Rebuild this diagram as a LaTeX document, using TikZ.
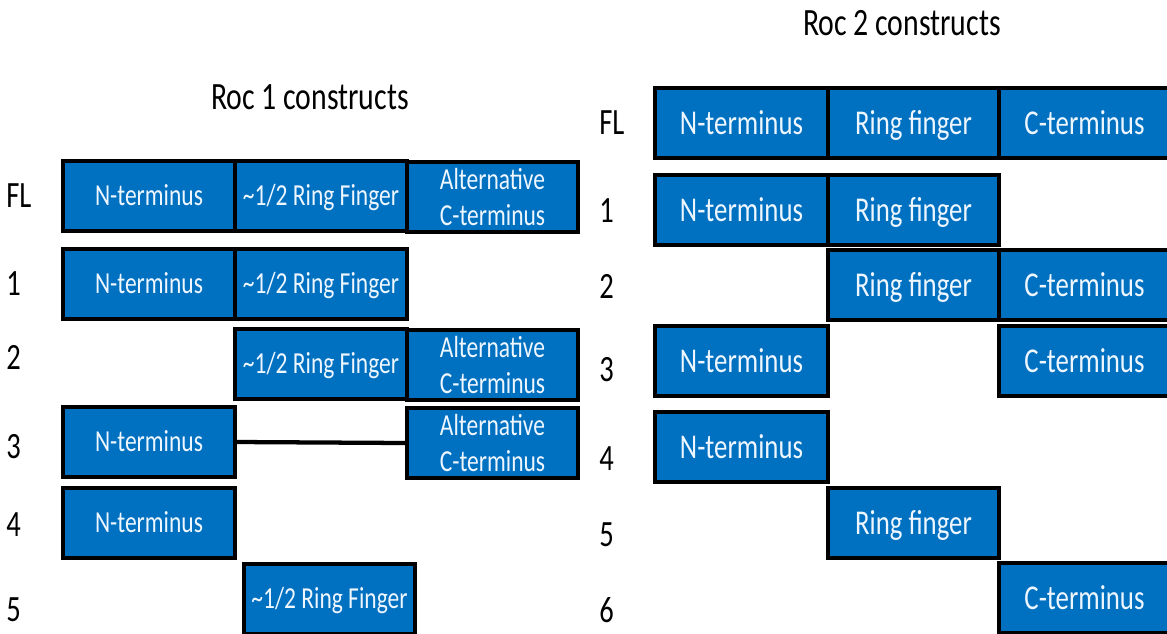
\documentclass[tikz,border=0pt]{standalone}
\usepackage{fontspec}
\newfontfamily\calf[FakeStretch=0.77]{Carlito}
\definecolor{boxblue}{HTML}{0070C0}
\definecolor{boxtext}{HTML}{EEF6FF}
\tikzset{
  box/.style={draw=black, line width=2.3pt, fill=boxblue, text=boxtext, inner sep=0pt},
  bw/.style={minimum width=#1*0.75pt},
  bh/.style={minimum height=#1*0.75pt},
  oneline/.style={text height=#1, text depth=0pt},
  twoline/.style={align=center},
  lbox/.style={box, bh=70, font=\calf\fontsize{22.9}{26.3}\selectfont},
  lone/.style={lbox, oneline=14.6pt},
  rbox/.style={box, bh=70, oneline=16.6pt, font=\calf\fontsize{26.1}{30}\selectfont},
  rowlabel/.style={anchor=west, inner sep=0pt, font=\calf\fontsize{27.8}{30}\selectfont},
  title/.style={inner sep=0pt, font=\calf\fontsize{29}{32}\selectfont},
  link/.style={draw=black, line width=3.2pt}
}
\begin{document}
\begin{tikzpicture}[x=0.75pt,y=-0.75pt]
\useasboundingbox (0,0) rectangle (1167,633);
% titles
\node[title] (t1) at (310,97) {Roc 1 constructs};
\node[title] (t2) at (902,23) {Roc 2 constructs};
% left row labels
\node[rowlabel] (lFL) at (6,196) {FL};
\node[rowlabel] (l1) at (6,284) {1};
\node[rowlabel] (l2) at (6,357) {2};
\node[rowlabel] (l3) at (6,447) {3};
\node[rowlabel] (l4) at (6,525) {4};
\node[rowlabel] (l5) at (6,610) {5};
% left boxes
\node[lone, bw=172] (aN) at (149,196) {N-terminus};
\node[lone, bw=172] (aR) at (321,196) {\textasciitilde1/2 Ring Finger};
\node[lbox, twoline, bw=171] (aC) at (492.5,197) {Alternative\\C-terminus};
\node[lone, bw=172] (bN) at (149,284) {N-terminus};
\node[lone, bw=172] (bR) at (321,284) {\textasciitilde1/2 Ring Finger};
\node[lone, bw=172] (cR) at (321,364) {\textasciitilde1/2 Ring Finger};
\node[lbox, twoline, bw=171] (cC) at (492.5,365) {Alternative\\C-terminus};
\node[lone, bw=172] (dN) at (149,442) {N-terminus};
\node[lbox, twoline, bw=171] (dC) at (492.5,443) {Alternative\\C-terminus};
\node[lone, bw=172] (eN) at (149,523) {N-terminus};
\node[lone, bw=171] (fR) at (329.5,599) {\textasciitilde1/2 Ring Finger};
\draw[link] (dN.east) -- (dC.west);
% right row labels
\node[rowlabel] (rFL) at (599,123) {FL};
\node[rowlabel] (r1) at (599,211) {1};
\node[rowlabel] (r2) at (599,286) {2};
\node[rowlabel] (r3) at (599,370) {3};
\node[rowlabel] (r4) at (599,459) {4};
\node[rowlabel] (r5) at (599,535) {5};
\node[rowlabel] (r6) at (599,610) {6};
% right boxes
\node[rbox, bw=173] (gN) at (741.5,123) {N-terminus};
\node[rbox, bw=171] (gR) at (913.5,123) {Ring finger};
\node[rbox, bw=171] (gC) at (1084.5,123) {C-terminus};
\node[rbox, bw=173] (hN) at (741.5,210) {N-terminus};
\node[rbox, bw=171] (hR) at (913.5,210) {Ring finger};
\node[rbox, bw=171] (iR) at (913.5,285) {Ring finger};
\node[rbox, bw=171] (iC) at (1084.5,285) {C-terminus};
\node[rbox, bw=173] (jN) at (741.5,361) {N-terminus};
\node[rbox, bw=171] (jC) at (1084.5,361) {C-terminus};
\node[rbox, bw=173] (kN) at (741.5,447) {N-terminus};
\node[rbox, bw=171] (lR) at (913.5,523) {Ring finger};
\node[rbox, bw=171] (mC) at (1084.5,598) {C-terminus};
\end{tikzpicture}
\end{document}
